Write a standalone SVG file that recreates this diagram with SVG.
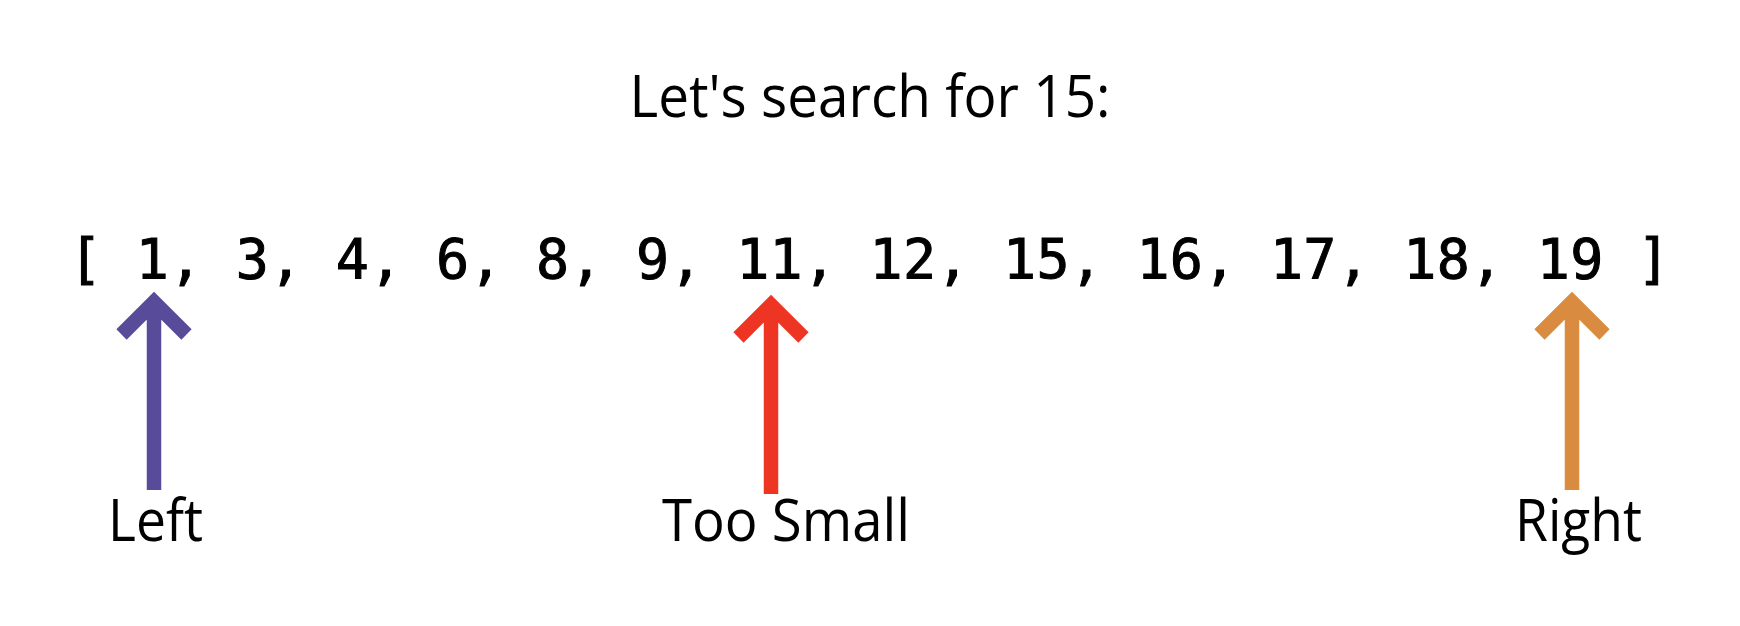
<svg xmlns="http://www.w3.org/2000/svg" width="1740" height="626" viewBox="0 0 1740 626">
<style>
.t{font-family:"Open Sans","Liberation Sans",sans-serif;font-size:59px;fill:#000}
.m{font-family:"DejaVu Sans Mono","Liberation Mono",monospace;font-size:55px;fill:#000;stroke:#000;stroke-width:1}
.a{fill:none;stroke-width:14.5;stroke-linejoin:miter;stroke-linecap:butt}
</style>
<rect width="1740" height="626" fill="#fff"/>
<g id="title"><text class="t" x="870" y="117" text-anchor="middle" textLength="481" lengthAdjust="spacingAndGlyphs">Let's search for 15:</text></g>
<g id="array"><text class="m" x="69" y="278" textLength="1601" lengthAdjust="spacing" xml:space="preserve">[ 1, 3, 4, 6, 8, 9, 11, 12, 15, 16, 17, 18, 19 ]</text></g>
<g id="connectors">
<g id="arrow-left" stroke="#584B9A"><path class="a" d="M121.5 334.5 L154 302 L186.5 334.5 M154 302 V490"/></g>
<g id="arrow-mid" stroke="#EE3524"><path class="a" d="M738.5 337.5 L771 305 L803.5 337.5 M771 305 V494"/></g>
<g id="arrow-right" stroke="#D98B3F"><path class="a" d="M1539.5 334.5 L1572 302 L1604.5 334.5 M1572 302 V490"/></g>
</g>
<g id="label-left"><text class="t" x="155.5" y="541" text-anchor="middle" textLength="95" lengthAdjust="spacingAndGlyphs">Left</text></g>
<g id="label-mid"><text class="t" x="786" y="541" text-anchor="middle" textLength="248" lengthAdjust="spacingAndGlyphs">Too Small</text></g>
<g id="label-right"><text class="t" x="1578.5" y="541" text-anchor="middle" textLength="127" lengthAdjust="spacingAndGlyphs">Right</text></g>
</svg>
